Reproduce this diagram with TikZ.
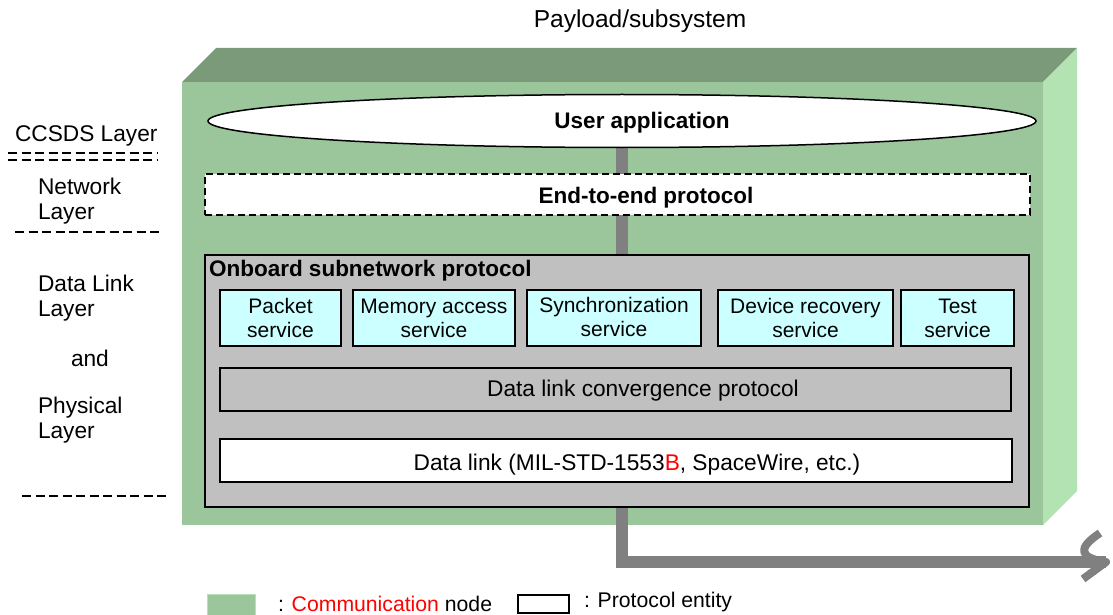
\documentclass[tikz,border=0pt]{standalone}
\usepackage{fontspec}
\setmainfont{Liberation Sans}
\usetikzlibrary{shapes.geometric}
\definecolor{frontg}{RGB}{155,197,155}
\definecolor{topg}{RGB}{122,154,122}
\definecolor{sideg}{RGB}{179,227,179}
\definecolor{linkgray}{RGB}{128,128,128}
\definecolor{boxgray}{RGB}{192,192,192}
\definecolor{svc}{RGB}{204,255,255}
\definecolor{redtxt}{RGB}{255,0,0}
\pgfdeclarelayer{bg}
\pgfdeclarelayer{mid}
\pgfsetlayers{bg,mid,main}
\begin{document}
\begin{tikzpicture}[x=1pt,y=-1pt,
  font=\fontsize{22.7}{25}\selectfont,
  every node/.style={inner sep=0pt, outer sep=0pt},
  svcbox/.style={draw=black, line width=1.5pt, fill=svc, align=center, minimum height=56, font=\fontsize{21}{24}\selectfont},
  graybox/.style={draw=black, line width=1.5pt, fill=boxgray},
  whitebox/.style={draw=black, line width=1.2pt, fill=white},
  dashbox/.style={draw=black, line width=1.5pt, fill=white, dash pattern=on 7pt off 4pt},
  boldtxt/.style={font=\fontsize{22.5}{25}\selectfont\bfseries},
  lefttxt/.style={anchor=west, align=left},
  legtxt/.style={anchor=west, font=\fontsize{21.2}{24}\selectfont},
  divider/.style={line width=1.3pt, dash pattern=on 9pt off 4.5pt},
  link/.style={draw=linkgray, line width=11.5pt, line join=miter, line cap=butt},
]
\useasboundingbox (0,0) rectangle (1113,615);

% communication node (3D box)
\begin{pgfonlayer}{bg}
\fill[topg] (182,82) -- (216,48) -- (1077,48) -- (1043,82) -- cycle;
\fill[sideg] (1043,82) -- (1077,48) -- (1077,491) -- (1043,525) -- cycle;
\fill[frontg] (182,82) rectangle (1043,525);
\end{pgfonlayer}

\node[font=\fontsize{24.5}{27}\selectfont] (title) at (640,21) {Payload/subsystem};

% protocol entities
\node[ellipse, draw=black, line width=1.5pt, fill=white, minimum width=828, minimum height=53] (ua) at (622,121) {};
\node[boldtxt] (uatxt) at (642,123) {User application};

\node[dashbox, minimum width=825, minimum height=41] (e2e) at (617.5,194.5) {};
\node[boldtxt] (e2etxt) at (646,198) {End-to-end protocol};

\node[graybox, minimum width=824, minimum height=252] (obp) at (617,381) {};
\node[anchor=west, boldtxt] (obptxt) at (209,271) {Onboard subnetwork protocol};

\node[svcbox, minimum width=121] (pkt) at (280.5,318) {Packet\\service};
\node[svcbox, minimum width=162] (mem) at (434,318) {Memory access\\service};
\node[svcbox, minimum width=174] (sync) at (614,318) {\raisebox{2pt}{Synchronization}\\\raisebox{2pt}{service}};
\node[svcbox, minimum width=175] (dev) at (805.5,318) {\raisebox{-3pt}{Device recovery}\\\raisebox{-3pt}{service}};
\node[svcbox, minimum width=113] (test) at (957.5,318) {Test\\service};

\node[graybox, minimum width=791, minimum height=43] (dlc) at (615.5,389.5) {};
\node (dlctxt) at (643,391) {Data link convergence protocol};

\node[whitebox, minimum width=792, minimum height=43] (dl) at (616,460.5) {};
\node (dltxt) at (637,465) {Data link (MIL-STD-1553\textcolor{redtxt}{B}, SpaceWire, etc.)};

% connector
\coordinate (bend) at (622,562);
\coordinate (tip) at (1106,562);
\begin{pgfonlayer}{mid}
\draw[link] (ua.south) -- (bend) -- (tip);
\draw[draw=linkgray, line width=8pt, line join=round] (1100,533) .. controls (1076,549) and (1080,558) .. (tip) -- (1083,579);
\end{pgfonlayer}

% layer labels
\node[lefttxt] (ccsds) at (15,136) {CCSDS Layer};
\node[lefttxt] (net) at (38,201) {Network\\Layer};
\node[lefttxt] (dll) at (38,298) {Data Link\\Layer};
\node[lefttxt] (and) at (71,358) {and};
\node[lefttxt] (phy) at (38,420) {Physical\\Layer};
\coordinate (d1a) at (8,153); \coordinate (d1b) at (157,153);
\coordinate (d2a) at (8,160); \coordinate (d2b) at (157,160);
\coordinate (d3a) at (15,232); \coordinate (d3b) at (163,232);
\coordinate (d4a) at (22,496); \coordinate (d4b) at (167,496);
\draw[divider] (d1a) -- (d1b);
\draw[divider] (d2a) -- (d2b);
\draw[divider] (d3a) -- (d3b);
\draw[divider] (d4a) -- (d4b);

% legend
\node[fill=frontg, draw=sideg, line width=1pt, minimum width=48, minimum height=24] (legg) at (231,606) {};
\node[legtxt] (leggtxt) at (278,604) {: \textcolor{redtxt}{Communication} node};
\node[draw=black, line width=1.5pt, fill=white, minimum width=51, minimum height=18] (legp) at (543.5,604) {};
\node[legtxt] (legptxt) at (584,602) {: Protocol entity};
\end{tikzpicture}
\end{document}
